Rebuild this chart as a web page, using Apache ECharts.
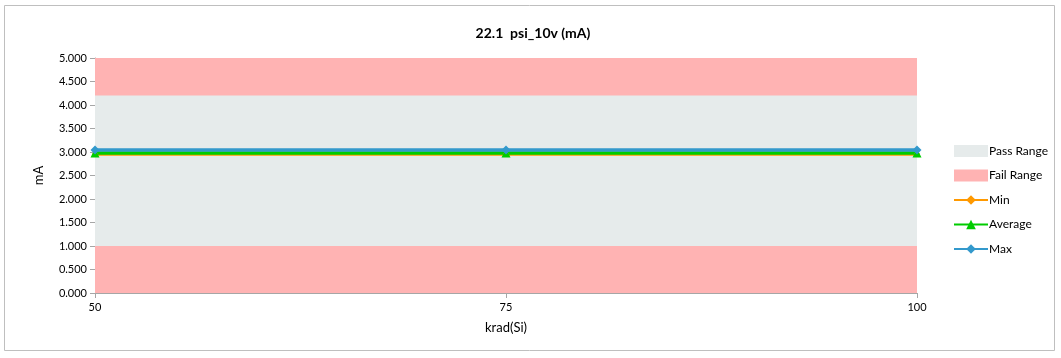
<!DOCTYPE html>
<html><head><meta charset="utf-8">
<script src="https://cdn.jsdelivr.net/npm/echarts@6/dist/echarts.min.js"></script>
<style>html,body{margin:0;padding:0;background:#fff}#c{width:1061px;height:358px}</style>
</head><body><div id="c"></div>
<script>
const xValues = [50, 75, 100];
const minValues = [2.96, 2.96, 2.96];
const avgValues = [2.98, 2.98, 2.98];
const maxValues = [3.04, 3.04, 3.04];
const failLow = 1.0;
const passHigh = 4.2;
const axisMax = 5.0;
const title = '22.1  psi_10v (mA)';

const edges = [xValues[0], xValues[xValues.length - 1]];
const band = v => edges.map(x => [x, v]);
const font = 'Lato, "Liberation Sans", sans-serif';

const chart = echarts.init(document.getElementById('c'));
function bandSeries(name, val, color) {
  return { name, type: 'line', data: band(val), symbol: 'none',
    lineStyle: { width: 0 }, areaStyle: { color, opacity: 1, origin: 'start' }, itemStyle: { color },
    silent: true, z: 1 };
}
function lineSeries(name, vals, color, symbol, size) {
  return { name, type: 'line', data: xValues.map((x, i) => [x, vals[i]]),
    symbol, symbolSize: size, lineStyle: { width: 3.5, color }, itemStyle: { color }, z: 3 };
}
chart.setOption({
  animation: false,
  textStyle: { fontFamily: font },
  title: { text: title, left: 528, top: 21, textAlign: 'center',
    textStyle: { fontSize: 14, fontWeight: 'bold', color: '#000', fontFamily: font } },
  graphic: [{ type: 'rect', shape: { x: 4.5, y: 5.5, width: 1050, height: 345 },
    style: { fill: 'none', stroke: '#bfbfbf', lineWidth: 1 }, silent: true }],
  grid: { left: 95, right: 144, top: 58, bottom: 65 },
  legend: {
    orient: 'vertical', left: 948, top: 140, itemGap: 12.5, itemWidth: 34, itemHeight: 12,
    textStyle: { fontSize: 12, color: '#000', fontFamily: font, padding: [0, 0, 0, -4] },
    data: [
      { name: 'Pass Range', icon: 'rect' },
      { name: 'Fail Range', icon: 'rect' },
      'Min', 'Average', 'Max'
    ]
  },
  xAxis: {
    type: 'value', min: 50, max: 100, interval: 25,
    name: 'krad(Si)', nameLocation: 'middle', nameGap: 28,
    nameTextStyle: { fontSize: 13, color: '#000' },
    axisLine: { lineStyle: { color: '#a6a6a6' } },
    axisTick: { show: true, length: 5, lineStyle: { color: '#a6a6a6' } },
    axisLabel: { fontSize: 11, color: '#000', margin: 9 },
    splitLine: { show: false }
  },
  yAxis: {
    type: 'value', min: 0, max: axisMax, interval: 0.5,
    name: 'mA', nameLocation: 'middle', nameGap: 50,
    nameTextStyle: { fontSize: 13, color: '#000' },
    axisLine: { show: true, lineStyle: { color: '#a6a6a6' } },
    axisTick: { show: true, length: 5, lineStyle: { color: '#a6a6a6' } },
    axisLabel: { fontSize: 11, color: '#000', margin: 8, formatter: v => v.toFixed(3) },
    splitLine: { show: false }
  },
  series: [
    bandSeries('Fail Range', axisMax, '#ffb3b3'),
    bandSeries('Pass Range', passHigh, '#e6ebeb'),
    bandSeries('Fail Range', failLow, '#ffb3b3'),
    lineSeries('Min', minValues, '#ff9900', 'diamond', 6),
    lineSeries('Average', avgValues, '#00cc00', 'triangle', 9),
    lineSeries('Max', maxValues, '#3399cc', 'diamond', 9)
  ]
});
</script></body></html>
